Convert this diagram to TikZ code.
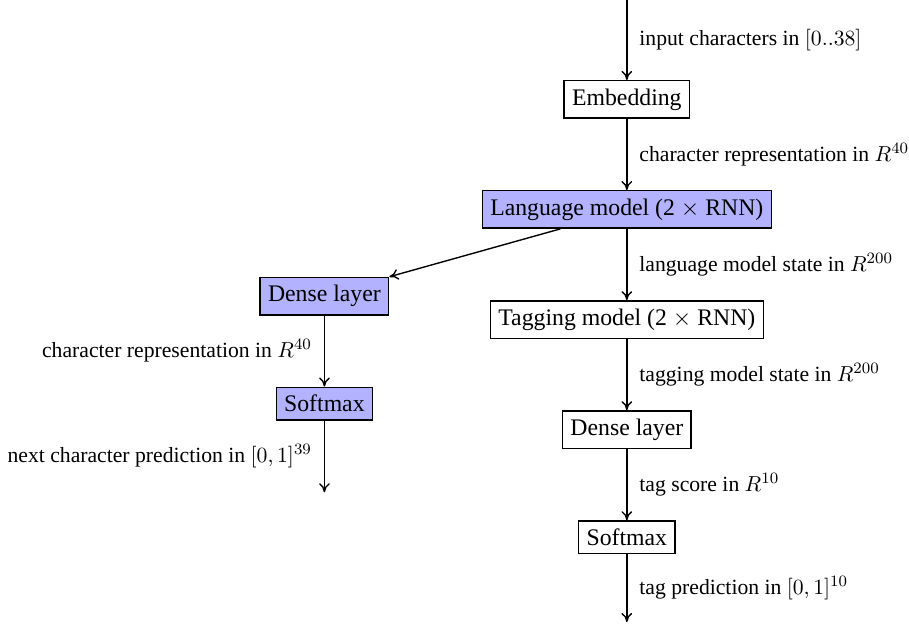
\documentclass[tikz,border=0pt,11pt]{standalone}
\usepackage[no-math]{fontspec}
\setmainfont{Liberation Serif}
\usetikzlibrary{arrows.meta,positioning}
\tikzset{
  layer/.style={draw, fill=white, line width=0.7pt, inner xsep=4pt, inner ysep=4pt, font=\large},
  lmlayer/.style={layer, fill=blue!30},
  arrow/.style={-{To[length=1.6mm,width=1.9mm]}, line width=0.7pt},
  note/.style={inner sep=6pt}
}
\begin{document}
\begin{tikzpicture}[node distance=1.265cm]
\useasboundingbox (0,0) rectangle (16.14,-11.08);
% tagger column
\coordinate (in) at (11.13,0);
\node[layer, below=1.42cm of in] (emb) {Embedding};
\node[lmlayer, below=of emb] (lm) {Language model (2 $\times$ RNN)};
\node[layer, below=of lm] (tag) {Tagging model (2 $\times$ RNN)};
\node[layer, below=of tag] (dense) {Dense layer};
\node[layer, below=of dense] (soft) {Softmax};
\coordinate[below=1.2cm of soft] (out);
% language model head
\node[lmlayer, below=0.85cm of lm, xshift=-5.37cm] (ldense) {Dense layer};
\node[lmlayer, below=1.26cm of ldense] (lsoft) {Softmax};
\coordinate[below=1.27cm of lsoft] (lout);
\foreach \a/\b/\t in {in/emb/{input characters in $[0..38]$},
  emb/lm/{character representation in $R^{40}$},
  lm/tag/{language model state in $R^{200}$},
  tag/dense/{tagging model state in $R^{200}$},
  dense/soft/{tag score in $R^{10}$},
  soft/out/{tag prediction in $[0,1]^{10}$}}
  \draw[arrow] (\a) -- node[note, right] {\t} (\b);
\draw[arrow] ([xshift=-1.18cm]lm.south) -- (ldense.north east);
\draw[arrow] (ldense) -- node[note, left] {character representation in $R^{40}$} (lsoft);
\draw[arrow] (lsoft) -- node[note, left] {next character prediction in $[0,1]^{39}$} (lout);
\end{tikzpicture}
\end{document}
